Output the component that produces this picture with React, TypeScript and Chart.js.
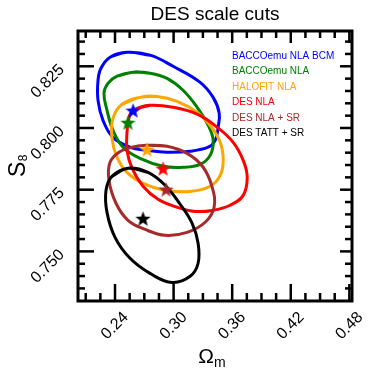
import React, { useEffect, useRef } from 'react';
import { Chart, registerables } from 'chart.js';
Chart.register(...registerables);

// ---- data ----
const seriesNames = ['BACCOemu NLA BCM', 'BACCOemu NLA', 'HALOFIT NLA', 'DES NLA', 'DES NLA + SR', 'DES TATT + SR'];
const seriesColors = ['#0000ff', '#008000', '#ffa500', '#ff0000', '#a52a2a', '#000000'];

const bcmOm = [0.2523, 0.2759, 0.2995, 0.3272, 0.3405, 0.3467, 0.3456, 0.3426, 0.3354, 0.3169, 0.2933, 0.2728, 0.2554, 0.2379, 0.2277, 0.2226, 0.2226, 0.2256, 0.2349];
const bcmS8 = [0.8307, 0.8295, 0.8250, 0.8185, 0.8124, 0.8060, 0.8003, 0.7950, 0.7922, 0.7906, 0.7902, 0.7910, 0.7922, 0.7962, 0.8031, 0.8112, 0.8193, 0.8242, 0.8287];

const baccoOm = [0.2585, 0.2759, 0.2933, 0.3097, 0.3241, 0.3354, 0.3405, 0.3374, 0.3272, 0.3097, 0.2892, 0.2656, 0.2482, 0.2379, 0.2318, 0.2287, 0.2328, 0.2421];
const baccoS8 = [0.8226, 0.8222, 0.8201, 0.8153, 0.8084, 0.8011, 0.7950, 0.7889, 0.7853, 0.7841, 0.7845, 0.7877, 0.7922, 0.7991, 0.8072, 0.8141, 0.8181, 0.8210];

const halofitOm = [0.2656, 0.2831, 0.3036, 0.3241, 0.3374, 0.3477, 0.3508, 0.3477, 0.3374, 0.3169, 0.2913, 0.2687, 0.2523, 0.2421, 0.2369, 0.2379, 0.2472];
const halofitS8 = [0.8124, 0.8128, 0.8108, 0.8064, 0.8011, 0.7942, 0.7869, 0.7808, 0.7764, 0.7743, 0.7748, 0.7776, 0.7820, 0.7881, 0.7958, 0.8039, 0.8096];

const desNlaOm = [0.2585, 0.2759, 0.2995, 0.3241, 0.3446, 0.3610, 0.3713, 0.3754, 0.3713, 0.3579, 0.3395, 0.3221, 0.3036, 0.2841, 0.2687, 0.2574, 0.2523, 0.2523, 0.2544];
const desNlaS8 = [0.8072, 0.8092, 0.8084, 0.8056, 0.8003, 0.7942, 0.7869, 0.7800, 0.7727, 0.7687, 0.7666, 0.7662, 0.7679, 0.7711, 0.7764, 0.7837, 0.7910, 0.7983, 0.8043];

const desNlaSrOm = [0.2728, 0.2933, 0.3138, 0.3303, 0.3395, 0.3415, 0.3323, 0.3138, 0.2913, 0.2708, 0.2533, 0.2410, 0.2338, 0.2349, 0.2441, 0.2574];
const desNlaSrS8 = [0.7930, 0.7926, 0.7897, 0.7841, 0.7760, 0.7679, 0.7618, 0.7577, 0.7565, 0.7589, 0.7626, 0.7695, 0.7788, 0.7861, 0.7902, 0.7922];

const desTattOm = [0.2533, 0.2738, 0.2913, 0.3067, 0.3190, 0.3251, 0.3251, 0.3169, 0.2985, 0.2759, 0.2554, 0.2400, 0.2318, 0.2308, 0.2369];
const desTattS8 = [0.7837, 0.7820, 0.7768, 0.7691, 0.7614, 0.7533, 0.7452, 0.7399, 0.7374, 0.7411, 0.7472, 0.7557, 0.7658, 0.7748, 0.7804];

const starOm = [0.2585, 0.2533, 0.2728, 0.2892, 0.2923, 0.2687];
const starS8 = [0.8068, 0.8019, 0.7910, 0.7833, 0.7748, 0.7630];

const xTickValues = [0.24, 0.30, 0.36, 0.42, 0.48];
const yTickValues = [0.750, 0.775, 0.800, 0.825];

const X_MIN = 0.2021, X_MAX = 0.4827;
const Y_MIN = 0.7299, Y_MAX = 0.8393;

const contourOm = [bcmOm, baccoOm, halofitOm, desNlaOm, desNlaSrOm, desTattOm];
const contourS8 = [bcmS8, baccoS8, halofitS8, desNlaS8, desNlaSrS8, desTattS8];

const FONT = "'Liberation Sans', Arial, Helvetica, sans-serif";

function closedLoop(xs: number[], ys: number[]) {
  const pts = xs.map((x, i) => ({ x, y: ys[i] }));
  const n = pts.length;
  return [pts[n - 1], ...pts, pts[0], pts[1]];
}

function makeStar(color: string, size = 17) {
  const c = document.createElement('canvas');
  c.width = size;
  c.height = size;
  const g = c.getContext('2d')!;
  const cx = size / 2, cy = size / 2, R = size / 2 - 0.5, r = R * 0.42;
  g.beginPath();
  for (let i = 0; i < 10; i++) {
    const ang = -Math.PI / 2 + (i * Math.PI) / 5;
    const rad = i % 2 === 0 ? R : r;
    const px = cx + rad * Math.cos(ang), py = cy + rad * Math.sin(ang);
    if (i === 0) g.moveTo(px, py);
    else g.lineTo(px, py);
  }
  g.closePath();
  g.fillStyle = color;
  g.fill();
  return c;
}

const framePlugin = {
  id: 'frameTicks',
  afterDraw(chart: any) {
    const { ctx, chartArea: a, scales } = chart;
    const xs = scales.x, ys = scales.y;
    ctx.save();
    ctx.strokeStyle = '#000';
    ctx.lineCap = 'butt';
    const line = (x1: number, y1: number, x2: number, y2: number) => {
      ctx.beginPath();
      ctx.moveTo(x1, y1);
      ctx.lineTo(x2, y2);
      ctx.stroke();
    };
    ctx.lineWidth = 2.5;
    for (let k = 0; k < 40; k++) {
      const v = 0.21 + k * 0.015;
      if (v > X_MAX + 1e-9) break;
      const q = (v - 0.24) / 0.06;
      const major = Math.abs(q - Math.round(q)) < 1e-6;
      const p = xs.getPixelForValue(v);
      const len = major ? 17 : 8;
      line(p, a.bottom, p, a.bottom - len);
      line(p, a.top, p, a.top + (major ? 12 : 7));
    }
    for (let k = 0; k < 40; k++) {
      const v = 0.735 + k * 0.005;
      if (v > Y_MAX - 0.001) break;
      const q = (v - 0.75) / 0.025;
      const major = Math.abs(q - Math.round(q)) < 1e-6;
      const p = ys.getPixelForValue(v);
      line(a.left, p, a.left + (major ? 16 : 7), p);
      line(a.right, p, a.right - (major ? 12 : 7), p);
    }
    ctx.lineWidth = 3;
    ctx.strokeRect(a.left, a.top, a.right - a.left, a.bottom - a.top);

    // legend text
    ctx.textBaseline = 'middle';
    ctx.textAlign = 'left';
    ctx.font = `10px ${FONT}`;
    seriesNames.forEach((name, i) => {
      ctx.fillStyle = seriesColors[i];
      ctx.fillText(name, a.left + 154, a.top + 25 + i * 15.5);
    });

    // axis titles
    ctx.fillStyle = '#000';
    ctx.textBaseline = 'alphabetic';
    const cx = 212;
    ctx.font = `21px ${FONT}`;
    const wO = ctx.measureText('Ω').width;
    ctx.font = `14px ${FONT}`;
    const wm = ctx.measureText('m').width;
    const sx = cx - (wO + wm) / 2;
    ctx.font = `21px ${FONT}`;
    ctx.fillText('Ω', sx, 363);
    ctx.font = `14px ${FONT}`;
    ctx.fillText('m', sx + wO, 367);

    ctx.save();
    ctx.translate(25, 166);
    ctx.rotate(-Math.PI / 2);
    ctx.font = `23px ${FONT}`;
    const wS = ctx.measureText('S').width;
    ctx.font = `12px ${FONT}`;
    const w8 = ctx.measureText('8').width;
    const s0 = -(wS + w8) / 2;
    ctx.font = `23px ${FONT}`;
    ctx.fillText('S', s0, 0);
    ctx.font = `12px ${FONT}`;
    ctx.fillText('8', s0 + wS + 0.5, 2);
    ctx.restore();

    ctx.restore();
  },
};

export default function App() {
  const ref = useRef<HTMLCanvasElement | null>(null);
  useEffect(() => {
    if (!ref.current) return;
    const contourSets = contourOm.map((xs, i) => ({
      label: seriesNames[i],
      data: closedLoop(xs, contourS8[i]),
      showLine: true,
      borderColor: seriesColors[i],
      backgroundColor: seriesColors[i],
      borderWidth: 3,
      pointRadius: 0,
      tension: 0.4,
      fill: false,
      order: 10 - i,
    }));
    const starSets = starOm.map((x, i) => ({
      label: seriesNames[i] + ' best fit',
      data: [{ x, y: starS8[i] }],
      showLine: false,
      pointStyle: makeStar(seriesColors[i]),
      pointRadius: 8,
      borderColor: seriesColors[i],
      backgroundColor: seriesColors[i],
      order: -1 - i,
    }));
    const chart = new Chart(ref.current, {
      type: 'scatter',
      data: { datasets: [...contourSets, ...starSets] as any },
      options: {
        animation: false,
        responsive: false,
        devicePixelRatio: 1,
        events: [],
        layout: { padding: { left: 0, right: 22, top: 0, bottom: 0 } },
        plugins: {
          legend: { display: false },
          tooltip: { enabled: false },
          title: {
            display: true,
            text: 'DES scale cuts',
            color: '#000',
            fullSize: false,
            font: { family: FONT, size: 19, weight: 'normal', lineHeight: '23px' } as any,
            padding: { top: 3, bottom: 5 },
          },
        },
        scales: {
          x: {
            type: 'linear',
            position: 'bottom',
            min: X_MIN,
            max: X_MAX,
            grid: { display: false, drawTicks: false },
            border: { display: false },
            afterBuildTicks: (s: any) => {
              s.ticks = xTickValues.map((v) => ({ value: v }));
            },
            afterFit: (s: any) => {
              s.height = 74;
            },
            ticks: {
              autoSkip: false,
              minRotation: 45,
              maxRotation: 45,
              padding: 7,
              labelOffset: 11,
              color: '#000',
              font: { family: FONT, size: 16 },
              callback: (v: any) => Number(v).toFixed(2),
            },
          },
          y: {
            type: 'linear',
            position: 'left',
            min: Y_MIN,
            max: Y_MAX,
            grid: { display: false, drawTicks: false },
            border: { display: false },
            afterBuildTicks: (s: any) => {
              s.ticks = yTickValues.map((v) => ({ value: v }));
            },
            afterFit: (s: any) => {
              s.width = 78;
            },
            ticks: {
              autoSkip: false,
              minRotation: 45,
              maxRotation: 45,
              padding: 16,
              labelOffset: 1,
              color: '#000',
              font: { family: FONT, size: 16 },
              callback: (v: any) => Number(v).toFixed(3),
            },
          },
        },
      } as any,
      plugins: [framePlugin],
    });
    return () => chart.destroy();
  }, []);
  return (
    <div style={{ position: 'fixed', left: 0, top: 0, width: 374, height: 375, background: '#fff' }}>
      <canvas ref={ref} width={374} height={375} />
    </div>
  );
}
